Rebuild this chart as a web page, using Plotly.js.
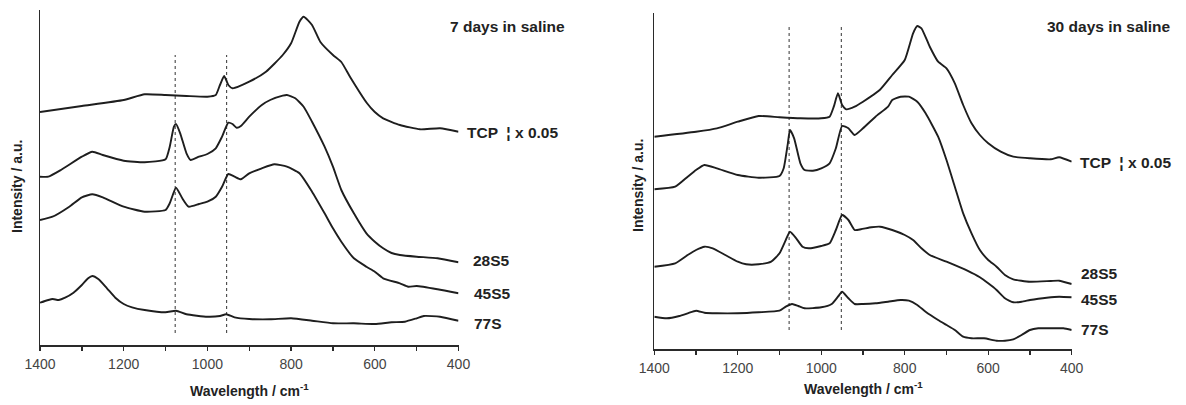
<!DOCTYPE html>
<html>
<head>
<meta charset="utf-8">
<script src="https://cdn.plot.ly/plotly-3.0.1.min.js"></script>
<style>html,body{margin:0;padding:0;background:#fff;}#chart{width:1186px;height:405px;}</style>
</head>
<body>
<div id="chart"></div>
<script>
// ---- 7 days in saline (left panel) ----
const wn_tcp7 = [1400,1300,1200,1150,1100,1050,1000,980,970,960,950,940,900,860,820,800,780,770,750,730,700,680,659,619,600,580,540,492,444,400];
const tcp7    = [233,239,245,250.7,250,249,248.3,250,260,269,260,256.7,263.3,273.3,290,301.7,323.3,328.3,320,303,290,283,268,242,233,226.7,220,215.7,216.7,213.3];

const wn_28s5_7 = [1400,1380,1350,1300,1275,1250,1200,1150,1100,1090,1080,1075,1065,1050,1040,1020,1000,980,965,950,940,930,920,900,870,850,820,810,790,770,750,720,700,680,650,620,600,580,560,540,500,450,400];
const s28s5_7   = [168.3,168.3,175,188.3,193.3,190,184.3,182.7,185.7,198.3,218.3,221,211.7,191.7,185,188.3,191,196.7,208.3,222.3,221,217.3,219,228.3,240,245,249.3,250,246.7,238.3,223.3,198.3,178.3,155,131.7,111.7,103.3,96.7,92,90,88.3,86.7,82.7];

const wn_45s5_7 = [1400,1370,1330,1300,1275,1250,1200,1150,1100,1090,1075,1060,1045,1020,1000,980,965,950,935,920,900,870,840,810,780,750,720,700,680,650,620,600,580,540,520,500,450,400];
const s45s5_7   = [125,128.3,138.3,147.7,150.7,147.7,138.3,133.3,135,141.7,157.3,146.7,138.3,141,143.3,148.3,158.3,171,168.3,165.7,171.7,176.7,180.7,178.3,171.7,153.3,131.7,116.7,103.3,86.7,78.3,73.3,66.7,61.7,58.3,59,55.7,51.7];

const wn_77s_7 = [1400,1380,1370,1355,1340,1320,1300,1285,1275,1260,1240,1220,1200,1180,1150,1100,1075,1050,1000,970,955,935,900,850,800,750,700,650,600,560,528,500,483,444,400];
const s77s_7   = [42.3,45,46,45,47.3,52.3,60,66.7,69,65.7,56.7,47.3,41,37.7,35,32.7,34.3,30.7,28.3,29,30.7,27.7,26,25.7,26.7,24.3,21.7,21.7,21,22.7,23.3,26.7,29,28.3,24.3];

// ---- 30 days in saline (right panel) ----
const wn_tcp30 = [1400,1300,1250,1200,1150,1100,1050,1000,980,970,960,950,940,920,900,860,830,800,780,770,760,740,720,700,680,660,640,620,600,570,540,500,450,430,400];
const tcp30    = [212.3,217.3,220.7,227.3,233,231.7,230.7,230.7,232.3,242.3,255.7,244,239.7,242.3,247.3,259,274,289,315.7,323,320.7,302.3,287.3,280.7,265.7,244,225.7,214,205.7,197.3,192.3,190.7,189.7,191.7,187.3];

const wn_28s5_30 = [1400,1350,1320,1300,1280,1250,1200,1150,1100,1090,1080,1075,1065,1050,1040,1020,1000,980,965,950,935,920,900,870,840,830,810,790,770,750,720,700,680,660,640,620,600,580,560,540,500,450,430,400];
const s28s5_30   = [159.7,162.3,172.3,179,184,180.7,174,171.3,173,180.7,205.7,219,210.7,185.7,179,178.3,180.7,185.7,200.7,223,220.7,214,220.7,232.3,242.3,249,252.3,252.3,247.3,235.7,212.3,189,162.3,135.7,115.7,99,89,82.3,74,69.7,67.3,68,68.3,65];

const wn_45s5_30 = [1400,1350,1320,1300,1280,1260,1230,1200,1180,1150,1120,1100,1085,1075,1060,1045,1030,1000,980,965,950,935,920,905,880,859,830,800,780,760,740,700,650,620,600,580,560,540,520,500,480,460,430,400];
const s45s5_30   = [82.3,85.7,94,99,102.3,100.7,94,87.3,84.7,84.7,87.3,95.7,109,117.3,110.7,102.3,100.7,103,105.7,119,134,129,119,119.7,121.7,122.3,119,114,109,100.7,94,87.3,78.3,71.7,65.7,59,50.7,46.7,47.3,49,50.3,51.3,52.3,51.7];

const wn_77s_30 = [1400,1370,1340,1320,1300,1280,1250,1200,1150,1100,1085,1070,1055,1040,1000,975,960,950,935,920,900,870,840,810,790,770,750,720,700,680,660,640,610,580,560,540,520,500,480,450,420,400];
const s77s_30   = [32.3,30.7,33,35.7,38.3,36.3,35.7,35.7,36.7,38.3,42.3,45,43,40.7,41.7,45,52.3,57.3,50.7,45,45,45.7,47.3,49,48.3,44,37.3,29,24,19,12.3,10.7,10.7,8.3,8.3,9.7,14,19,20.7,20.7,20.7,19];

// ---- reference marker lines (dotted) ----
const markers7  = [1077, 954];
const markers30 = [1077, 952];
const markerSpan7  = [12, 290];
const markerSpan30 = [19, 322];

// ---- labels ----
const seriesLabels = ['TCP  \u00a6 x 0.05', '28S5', '45S5', '77S'];
const panelTitles = ['7 days in saline', '30 days in saline'];
const xTitle = 'Wavelength / cm<sup>-1</sup>';
const yTitle = 'Intensity / a.u.';
const tickVals = [1400, 1200, 1000, 800, 600, 400];

const lineStyle = {color: '#1e1e1e', width: 1.9, shape: 'spline', smoothing: 0.5};
const dotStyle = {color: '#333', width: 1, dash: 'dot'};

function curve(x, y, xa, ya) {
  return {x: x, y: y, xaxis: xa, yaxis: ya, type: 'scatter', mode: 'lines', line: lineStyle, hoverinfo: 'skip', showlegend: false};
}
const traces = [];
markers7.forEach(m => traces.push({x: [m, m], y: markerSpan7, xaxis: 'x', yaxis: 'y', mode: 'lines', line: dotStyle, showlegend: false, hoverinfo: 'skip'}));
markers30.forEach(m => traces.push({x: [m, m], y: markerSpan30, xaxis: 'x2', yaxis: 'y2', mode: 'lines', line: dotStyle, showlegend: false, hoverinfo: 'skip'}));
traces.push(curve(wn_tcp7, tcp7, 'x', 'y'));
traces.push(curve(wn_28s5_7, s28s5_7, 'x', 'y'));
traces.push(curve(wn_45s5_7, s45s5_7, 'x', 'y'));
traces.push(curve(wn_77s_7, s77s_7, 'x', 'y'));
traces.push(curve(wn_tcp30, tcp30, 'x2', 'y2'));
traces.push(curve(wn_28s5_30, s28s5_30, 'x2', 'y2'));
traces.push(curve(wn_45s5_30, s45s5_30, 'x2', 'y2'));
traces.push(curve(wn_77s_30, s77s_30, 'x2', 'y2'));
// invisible traces so the label axes are drawn
traces.push({x: tickVals, y: tickVals.map(() => null), xaxis: 'x3', yaxis: 'y', mode: 'lines', showlegend: false, hoverinfo: 'skip'});
traces.push({x: tickVals, y: tickVals.map(() => null), xaxis: 'x4', yaxis: 'y2', mode: 'lines', showlegend: false, hoverinfo: 'skip'});

const font = 'Liberation Sans, Arial, sans-serif';
// tick-mark axis: every 100, short outside marks, no labels
function xaxis(domain, anchor) {
  return {
    domain: domain, anchor: anchor, range: [1400, 400], autorange: false,
    showline: true, linecolor: '#2a2a2a', linewidth: 1.5, showgrid: false, zeroline: false,
    ticks: 'outside', ticklen: 4, tickwidth: 1.3, tickcolor: '#2a2a2a',
    tickmode: 'linear', tick0: 400, dtick: 100, showticklabels: false
  };
}
// label axis: labels every 200, no marks
function labelAxis(domain, anchor, over) {
  return {
    domain: domain, anchor: anchor, overlaying: over, range: [1400, 400], autorange: false,
    showline: false, showgrid: false, zeroline: false, ticks: '',
    tickmode: 'array', tickvals: tickVals, ticktext: tickVals.map(String),
    tickfont: {family: font, size: 14, color: '#444'}, ticklabelstandoff: 9
  };
}
function yaxis(domain, anchor, top) {
  return {
    domain: domain, anchor: anchor, range: [0, top], autorange: false,
    showline: true, linecolor: '#2a2a2a', linewidth: 1.5, showgrid: false, zeroline: false,
    ticks: '', showticklabels: false
  };
}
const boldLab = {family: font, size: 15.5, color: '#222', weight: 'bold'};
const boldAx = {family: font, size: 14, color: '#222', weight: 'bold'};
function ann(text, x, y, opts) {
  return Object.assign({text: text, x: x, y: y, xref: 'paper', yref: 'paper', showarrow: false,
    font: boldLab, xanchor: 'left', yanchor: 'middle'}, opts || {});
}
const W = 1186, H = 405;
const px = v => v / W, py = v => 1 - v / H;

const annotations = [
  ann(panelTitles[0], px(567), py(27), {xanchor: 'right'}),
  ann(panelTitles[1], px(1173), py(27), {xanchor: 'right'}),
  ann(seriesLabels[0], px(465), py(132)),
  ann(seriesLabels[1], px(471), py(260)),
  ann(seriesLabels[2], px(472), py(293)),
  ann(seriesLabels[3], px(472), py(323)),
  ann(seriesLabels[0], px(1078), py(162)),
  ann(seriesLabels[1], px(1079), py(273)),
  ann(seriesLabels[2], px(1079), py(299)),
  ann(seriesLabels[3], px(1079), py(329)),
  ann(xTitle, px(249), py(390), {xanchor: 'center', font: boldAx}),
  ann(xTitle, px(863), py(388), {xanchor: 'center', font: boldAx}),
  ann(yTitle, px(17), py(187), {xanchor: 'center', textangle: -90, font: boldAx}),
  ann(yTitle, px(638), py(186), {xanchor: 'center', textangle: -90, font: boldAx})
];

const dL = [px(40), px(458.5)], dR = [px(654.3), px(1071.7)];
const layout = {
  width: W, height: H,
  margin: {l: 0, r: 0, t: 0, b: 0},
  paper_bgcolor: '#fff', plot_bgcolor: 'rgba(0,0,0,0)',
  showlegend: false,
  xaxis: xaxis(dL, 'y'),
  yaxis: yaxis([1 - 345 / H, 1 - 10 / H], 'x', 335),
  xaxis2: xaxis(dR, 'y2'),
  yaxis2: yaxis([1 - 349 / H, 1 - 13 / H], 'x2', 336),
  xaxis3: labelAxis(dL, 'y', 'x'),
  xaxis4: labelAxis(dR, 'y2', 'x2'),
  annotations: annotations,
  font: {family: font}
};
Plotly.newPlot('chart', traces, layout, {staticPlot: true, displayModeBar: false});
</script>
</body>
</html>
